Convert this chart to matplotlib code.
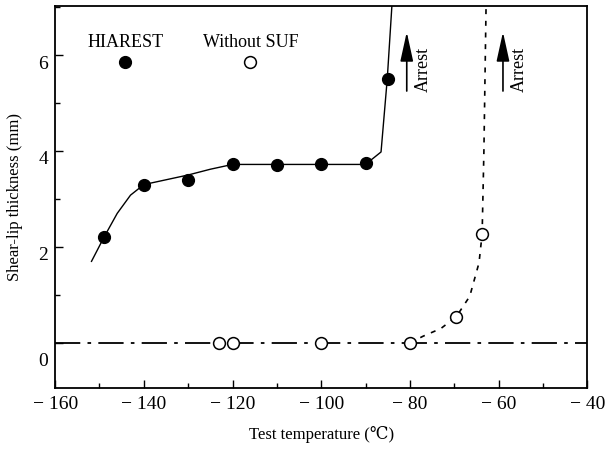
import matplotlib
matplotlib.use("Agg")
import matplotlib.pyplot as plt
import matplotlib.transforms as mtransforms
from matplotlib.ticker import MultipleLocator

plt.rcParams['font.family'] = ['Liberation Serif', 'DejaVu Serif']

# HIAREST (filled circles)
hiarest_t = [-149, -140, -130, -120, -110, -100, -90, -85]
hiarest_s = [2.2, 3.3, 3.4, 3.72, 3.7, 3.73, 3.74, 5.5]
# hand-drawn trend through HIAREST data
hiarest_curve_t = [-151.8, -149, -146, -143, -140, -135, -130, -125, -120, -90, -86.5, -85.1, -84.0]
hiarest_curve_s = [1.70, 2.20, 2.70, 3.08, 3.30, 3.40, 3.50, 3.62, 3.72, 3.72, 3.98, 5.50, 7.10]

# Without SUF (open circles)
nosuf_t = [-123, -120, -100, -80, -69.5, -63.7]
nosuf_s = [0.0, 0.0, 0.0, 0.0, 0.55, 2.27]
nosuf_curve_t = [-80, -77, -73, -69.5, -66.5, -64.4, -63.7, -63.3, -62.8]
nosuf_curve_s = [0.0, 0.14, 0.30, 0.55, 0.97, 1.67, 2.27, 4.0, 7.1]

baseline_s = 0.0

x_ticks = [-160, -140, -120, -100, -80, -60, -40]
x_ticklabels = ['\u2212 160', '\u2212 140', '\u2212 120', '\u2212 100',
                '\u2212 80', '\u2212 60', '\u2212 40']
y_ticks = [0, 2, 4, 6]

# "Arrest" arrows: x position, tail, head
arrest_x = [-80.7, -59.0]
arrest_tail = 5.25
arrest_head = 6.48
arrest_text_dx = 3.8

fig = plt.figure(figsize=(6.06, 4.53), dpi=100)
ax = fig.add_axes([0.091, 0.1435, 0.878, 0.843])

ax.plot(hiarest_curve_t, hiarest_curve_s, color='k', lw=1.0)
ax.plot(hiarest_t, hiarest_s, 'o', color='k', ms=8.5)

ax.axhline(baseline_s, color='k', lw=1.3, ls=(0, (14, 4, 2, 4)))
ax.plot(nosuf_curve_t, nosuf_curve_s, color='k', lw=1.2, ls=(0, (3, 4)))
ax.plot(nosuf_t, nosuf_s, 'o', mfc='white', mec='k', mew=1.1, ms=8.5)

# legend drawn as in the original
ax.plot([-144.2], [5.85], 'o', color='k', ms=8.5)
ax.text(-144.2, 6.27, 'HIAREST', ha='center', va='center', fontsize=13)
ax.plot([-116], [5.85], 'o', mfc='white', mec='k', mew=1.1, ms=8.5)
ax.text(-115.8, 6.27, 'Without SUF', ha='center', va='center', fontsize=13)

for x in arrest_x:
    ax.annotate('', xy=(x, arrest_head), xytext=(x, arrest_tail),
                arrowprops=dict(arrowstyle='-|>,head_length=1.0,head_width=0.22',
                                mutation_scale=18, lw=1.2, color='k',
                                shrinkA=0, shrinkB=0))
    ax.text(x + arrest_text_dx, arrest_tail - 0.03, 'Arrest',
            rotation=90, ha='center', va='bottom', fontsize=13)

ax.set_xlim(-160, -40)
ax.set_ylim(-0.94, 7.02)
ax.set_xticks(x_ticks, x_ticklabels)
ax.xaxis.set_minor_locator(MultipleLocator(10))
ax.set_yticks(y_ticks)
ax.yaxis.set_minor_locator(MultipleLocator(1))
ax.tick_params(which='both', direction='in', labelsize=14, width=1.0)
ax.tick_params(which='major', length=6)
ax.tick_params(which='minor', length=3.5)
ax.tick_params(axis='x', pad=6)
ax.tick_params(axis='y', pad=5)

for sp in ax.spines.values():
    sp.set_linewidth(1.3)

ax.set_xlabel('Test temperature (\u2103)', fontsize=12, labelpad=9)
ax.set_ylabel('Shear-lip thickness (mm)', fontsize=12, labelpad=11)

# tick labels sit slightly below their ticks in the original
for lab in ax.get_yticklabels():
    dy = -17 if lab.get_text() == '0' else -7
    off = mtransforms.ScaledTranslation(0, dy / 100, fig.dpi_scale_trans)
    lab.set_transform(lab.get_transform() + off)

fig.savefig('out.png', dpi=100)
